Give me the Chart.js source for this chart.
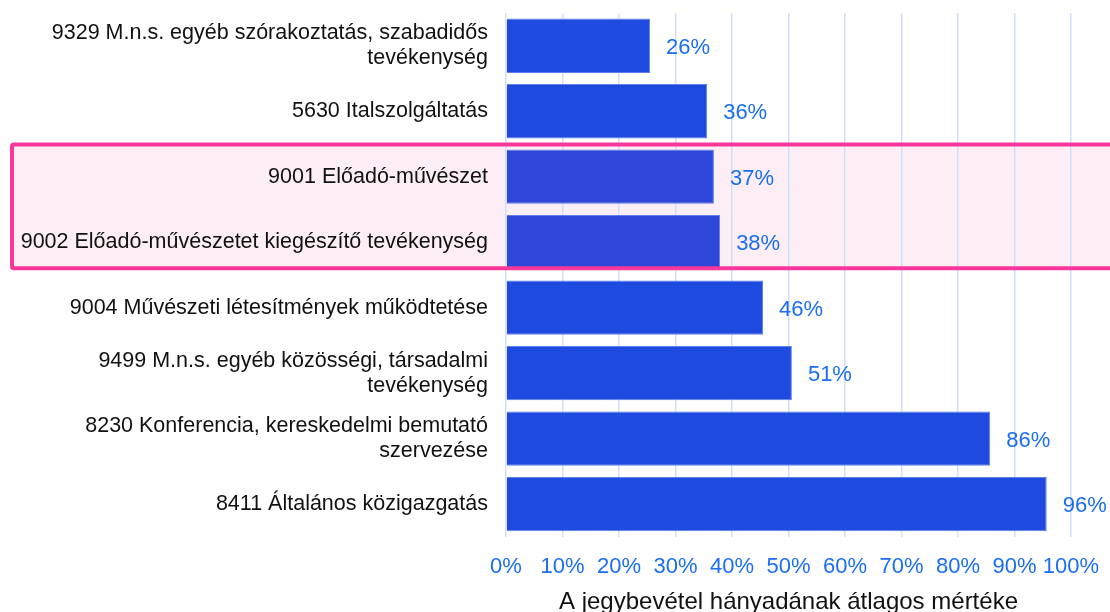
<!DOCTYPE html>
<html>
<head>
<meta charset="utf-8">
<script src="https://cdn.jsdelivr.net/npm/chart.js@4"></script>
<style>
  html, body { margin: 0; padding: 0; background: #fff; }
  #wrap { width: 1110px; height: 612px; }
</style>
</head>
<body>
<div id="wrap"><canvas id="chart" width="1110" height="612"></canvas></div>
<script>
const categories = [
  ['9329 M.n.s. egyéb szórakoztatás, szabadidős', 'tevékenység'],
  '5630 Italszolgáltatás',
  '9001 Előadó-művészet',
  '9002 Előadó-művészetet kiegészítő tevékenység',
  '9004 Művészeti létesítmények működtetése',
  ['9499 M.n.s. egyéb közösségi, társadalmi', 'tevékenység'],
  ['8230 Konferencia, kereskedelmi bemutató', 'szervezése'],
  '8411 Általános közigazgatás'
]
const shares = [25.5, 35.6, 36.8, 37.9, 45.5, 50.6, 85.7, 95.7]
const highlighted = [2, 3]
const xTicks = [0, 10, 20, 30, 40, 50, 60, 70, 80, 90, 100]
const axisTitle = 'A jegybevétel hányadának átlagos mértéke'

const blue = '#1f4ae0'
const blueHi = '#2f47d8'
const labelBlue = '#1a6ef5'
const font = "'Liberation Sans', Arial, sans-serif"

function boxBounds(chart) {
  const y = chart.scales.y
  const first = highlighted[0], last = highlighted[highlighted.length - 1]
  const step = y.getPixelForValue(1) - y.getPixelForValue(0)
  return {
    top: y.getPixelForValue(first) - step / 2 + 0.5,
    bottom: y.getPixelForValue(last) + step * 0.4
  }
}

// pink band behind the highlighted rows
const highlightBox = {
  id: 'highlightBox',
  beforeDraw(chart) {
    const b = boxBounds(chart)
    const ctx = chart.ctx
    ctx.save()
    ctx.fillStyle = '#fdeef5'
    ctx.fillRect(10, b.top, 1110, b.bottom - b.top)
    ctx.restore()
  },
  afterDatasetsDraw(chart) {
    const b = boxBounds(chart)
    const ctx = chart.ctx
    ctx.save()
    ctx.strokeStyle = '#f7379a'
    ctx.lineWidth = 4
    ctx.beginPath()
    ctx.roundRect(12, b.top, 1110, b.bottom - b.top, 2)
    ctx.stroke()
    ctx.restore()
  }
}

// value labels at the end of each bar
const valueLabels = {
  id: 'valueLabels',
  afterDatasetsDraw(chart) {
    const ctx = chart.ctx
    const meta = chart.getDatasetMeta(0)
    ctx.save()
    ctx.font = '22px ' + font
    ctx.fillStyle = labelBlue
    ctx.textBaseline = 'middle'
    meta.data.forEach((bar, i) => {
      ctx.fillText(Math.round(shares[i]) + '%', bar.x + 16, bar.y + 2)
    })
    ctx.restore()
  }
}

new Chart(document.getElementById('chart'), {
  type: 'bar',
  data: {
    labels: categories,
    datasets: [{
      data: shares,
      backgroundColor: shares.map((v, i) => highlighted.includes(i) ? blueHi : blue),
      borderColor: '#5f80ec',
      borderWidth: 1,
      categoryPercentage: 1,
      barPercentage: 0.83
    }]
  },
  options: {
    indexAxis: 'y',
    responsive: false,
    animation: false,
    layout: { padding: { top: 13, right: 39, bottom: -5, left: 0 } },
    plugins: {
      legend: { display: false },
      tooltip: { enabled: false }
    },
    scales: {
      x: {
        min: 0,
        max: 100,
        afterBuildTicks(scale) {
          scale.ticks = xTicks.map(v => ({ value: v }))
        },
        afterFit(scale) {
          scale.paddingLeft = 0
          scale.paddingRight = 0
        },
        border: { display: false },
        grid: { color: '#cfdffb', lineWidth: 1.5, drawTicks: false },
        ticks: {
          color: labelBlue,
          font: { family: font, size: 22 },
          padding: 17,
          maxRotation: 0,
          minRotation: 0,
          autoSkip: false,
          callback: v => v + '%'
        },
        title: {
          display: true,
          text: axisTitle,
          color: '#111',
          font: { family: font, size: 24 },
          padding: { top: -9, bottom: 0 }
        }
      },
      y: {
        border: { display: false },
        grid: { display: false, drawTicks: false },
        afterFit(scale) {
          scale.width = 506
          scale.paddingTop = 0
          scale.paddingBottom = 0
        },
        ticks: {
          color: '#111',
          font: { family: font, size: 21.5, lineHeight: 1.16 },
          padding: 18
        }
      }
    }
  },
  plugins: [highlightBox, valueLabels]
})
</script>
</body>
</html>
